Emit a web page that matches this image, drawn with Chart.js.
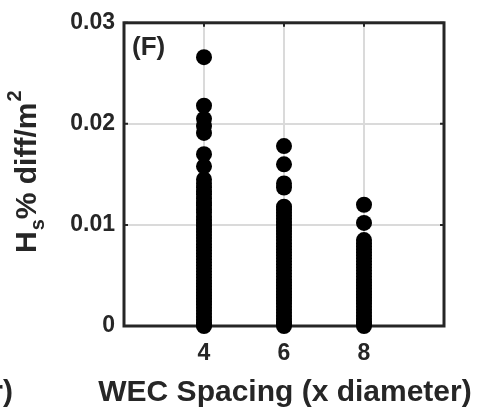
<!DOCTYPE html>
<html>
<head>
<meta charset="utf-8">
<script src="https://cdn.jsdelivr.net/npm/chart.js@4/dist/chart.umd.min.js"></script>
<style>
  html, body { margin: 0; padding: 0; background: #ffffff; }
  #wrap { width: 481px; height: 418px; }
</style>
</head>
<body>
<div id="wrap"><canvas id="chart" width="481" height="418"></canvas></div>
<script>
// WEC spacing categories (x diameter) and Hs % difference per m^2 for each run
const spacings = [4, 6, 8];
const hsDiffAt4 = [
  0.0266, 0.0218, 0.0205, 0.0198, 0.0191, 0.0170, 0.0158,
  0.0145, 0.0141, 0.0137, 0.0133, 0.0130, 0.0126, 0.0122, 0.0119, 0.0115,
  0.0112, 0.0108, 0.0105, 0.0102, 0.0099, 0.0096, 0.0093, 0.0090, 0.0087,
  0.0084, 0.0081, 0.0078, 0.0075, 0.0072, 0.0069, 0.0066, 0.0063, 0.0060,
  0.0057, 0.0054, 0.0051, 0.0048, 0.0045, 0.0042, 0.0039, 0.0036, 0.0033,
  0.0030, 0.0027, 0.0024, 0.0021, 0.0018, 0.0015, 0.0012, 0.0009, 0.0006,
  0.0003, 0.0001, 0.0000
];
const hsDiffAt6 = [
  0.0178, 0.0160, 0.0141, 0.0137,
  0.0118, 0.0115, 0.0112, 0.0109, 0.0106, 0.0103, 0.0100, 0.0097, 0.0094,
  0.0091, 0.0088, 0.0085, 0.0082, 0.0079, 0.0076, 0.0073, 0.0070, 0.0067,
  0.0064, 0.0061, 0.0058, 0.0055, 0.0052, 0.0049, 0.0046, 0.0043, 0.0040,
  0.0037, 0.0034, 0.0031, 0.0028, 0.0025, 0.0022, 0.0019, 0.0016, 0.0013,
  0.0010, 0.0007, 0.0004, 0.0002, 0.0000
];
const hsDiffAt8 = [
  0.0120, 0.0102,
  0.0085, 0.0082, 0.0079, 0.0076, 0.0073, 0.0070, 0.0067, 0.0064, 0.0061,
  0.0058, 0.0055, 0.0052, 0.0049, 0.0046, 0.0043, 0.0040, 0.0037, 0.0034,
  0.0031, 0.0028, 0.0025, 0.0022, 0.0019, 0.0016, 0.0013, 0.0010, 0.0007,
  0.0004, 0.0002, 0.0000
];
const xTickValues = [4, 6, 8];
const yTickValues = [0, 0.01, 0.02, 0.03];
const yTickLabels = ['0', '0.01', '0.02', '0.03'];

const INK = '#262626';
const GRID = '#dadada';
const FONT = '"Liberation Sans", Arial, Helvetica, sans-serif';

const series = [hsDiffAt4, hsDiffAt6, hsDiffAt8];
const points = [];
series.forEach((vals, i) => vals.forEach(v => points.push({ x: spacings[i], y: v })));

// Axes box, inward tick marks and the axis / panel texts
const decorations = {
  id: 'decorations',
  beforeDatasetsDraw(chart) {
    const { ctx, chartArea: a, scales } = chart;
    ctx.save();
    ctx.strokeStyle = INK;
    ctx.lineWidth = 2;
    ctx.beginPath();
    xTickValues.forEach(v => {
      const px = scales.x.getPixelForValue(v);
      ctx.moveTo(px, a.top); ctx.lineTo(px, a.top + 4);
      ctx.moveTo(px, a.bottom); ctx.lineTo(px, a.bottom - 4);
    });
    yTickValues.forEach(v => {
      const py = scales.y.getPixelForValue(v);
      ctx.moveTo(a.left, py); ctx.lineTo(a.left + 4, py);
      ctx.moveTo(a.right, py); ctx.lineTo(a.right - 4, py);
    });
    ctx.stroke();
    ctx.lineWidth = 3;
    ctx.strokeRect(a.left, a.top, a.right - a.left, a.bottom - a.top);
    ctx.restore();
  },
  afterDraw(chart) {
    const { ctx, chartArea: a } = chart;
    ctx.save();
    ctx.fillStyle = INK;
    ctx.textBaseline = 'alphabetic';

    // panel letter
    ctx.font = 'bold 26px ' + FONT;
    ctx.textAlign = 'left';
    ctx.fillText('(F)', a.left + 8, a.top + 32);

    // x axis title, centred under the plot box
    ctx.font = 'bold 30px ' + FONT;
    ctx.textAlign = 'center';
    ctx.fillText('WEC Spacing (x diameter)', (a.left + a.right) / 2 + 1, 401);

    // tail of the neighbouring panel's axis title
    ctx.textAlign = 'right';
    ctx.fillText('r)', 13, 401);

    // y axis title: H_s % diff/m^2
    ctx.translate(36, 253);
    ctx.rotate(-Math.PI / 2);
    ctx.textAlign = 'left';
    let x = 0;
    ctx.font = 'bold 30px ' + FONT;
    ctx.fillText('H', x, 0);
    x += ctx.measureText('H').width + 1;
    ctx.font = 'bold 20px ' + FONT;
    ctx.fillText('s', x, 8);
    x += ctx.measureText('s').width;
    ctx.font = 'bold 30px ' + FONT;
    ctx.fillText('% diff/m', x, 0);
    x += ctx.measureText('% diff/m').width + 1;
    ctx.font = 'bold 20px ' + FONT;
    ctx.fillText('2', x, -15);
    ctx.restore();
  }
};

new Chart(document.getElementById('chart'), {
  type: 'scatter',
  data: {
    datasets: [{
      data: points,
      pointRadius: 8,
      pointHoverRadius: 8,
      pointBackgroundColor: '#000000',
      pointBorderWidth: 0,
      clip: false
    }]
  },
  options: {
    responsive: false,
    animation: false,
    devicePixelRatio: 1,
    layout: { padding: { top: 20, right: 37, left: 0, bottom: 0 } },
    plugins: { legend: { display: false }, tooltip: { enabled: false } },
    scales: {
      x: {
        type: 'linear',
        min: 2,
        max: 10,
        afterBuildTicks(scale) { scale.ticks = xTickValues.map(v => ({ value: v })); },
        afterFit(scale) { scale.height = 92; },
        border: { display: false },
        grid: { color: GRID, lineWidth: 2, drawTicks: false },
        ticks: {
          color: INK,
          padding: 14,
          font: { family: FONT, size: 23, weight: 'bold' },
          callback: v => String(v)
        }
      },
      y: {
        type: 'linear',
        min: 0,
        max: 0.03,
        afterBuildTicks(scale) { scale.ticks = yTickValues.map(v => ({ value: v })); },
        afterFit(scale) { scale.width = 124; },
        border: { display: false },
        grid: { color: GRID, lineWidth: 2, drawTicks: false },
        ticks: {
          color: INK,
          padding: 9,
          font: { family: FONT, size: 23, weight: 'bold' },
          callback: v => yTickLabels[yTickValues.indexOf(v)]
        }
      }
    }
  },
  plugins: [decorations]
});
</script>
</body>
</html>
